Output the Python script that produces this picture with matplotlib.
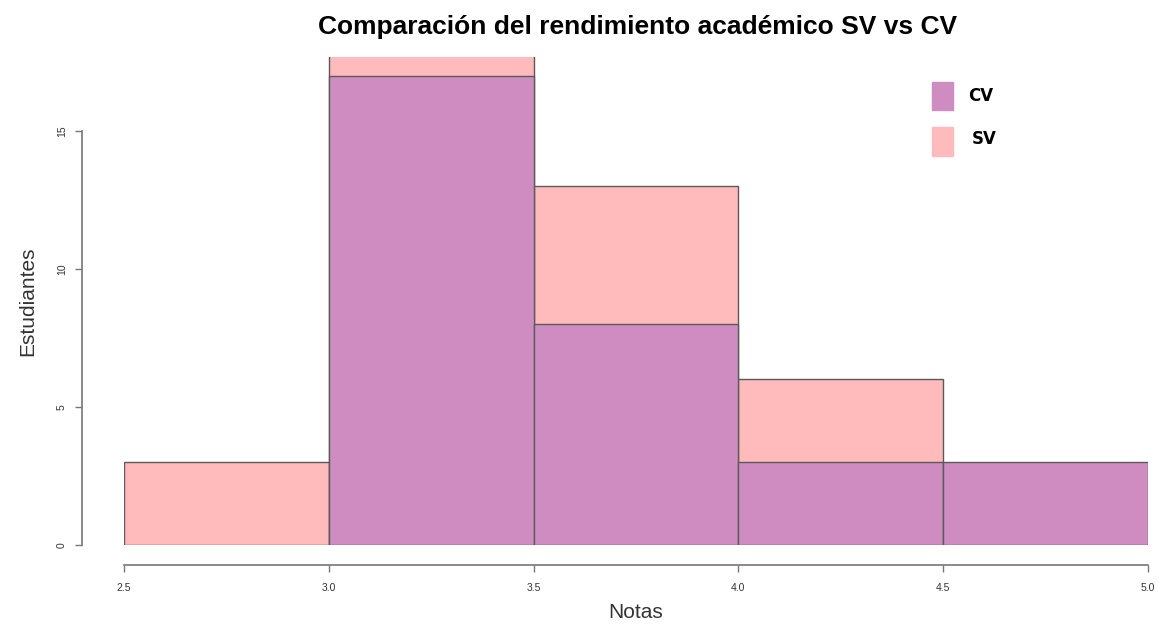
import matplotlib as mpl
mpl.use('Agg')
import matplotlib.pyplot as plt
from matplotlib.patches import Rectangle

plt.rcParams['font.family'] = ['Liberation Sans', 'DejaVu Sans']

# Histogram bins (Notas) and counts (Estudiantes)
bin_edges = [2.5, 3.0, 3.5, 4.0, 4.5]
sv_counts = [3, 18, 13, 6, 0]
cv_counts = [0, 17, 8, 3, 3]
x_ticks = [2.5, 3.0, 3.5, 4.0, 4.5, 5.0]
y_ticks = [0, 5, 10, 15]

sv_color = '#ffbbbb'
cv_color = '#ce8cc0'
edge = '#5a5a5a'

fig = plt.figure(figsize=(11.59, 6.28), dpi=100)
ax = fig.add_axes([124/1159, 83/628, 1024/1159, 488/628])

ax.bar(bin_edges, sv_counts, width=0.5, align='edge', color=sv_color,
       edgecolor=edge, linewidth=1)
ax.bar(bin_edges[1:], cv_counts[1:], width=0.5, align='edge', color=cv_color,
       edgecolor=edge, linewidth=1)

ax.set_xlim(2.5, 5.0)
ax.set_ylim(0, 17.68)

for s in ['top', 'right']:
    ax.spines[s].set_visible(False)
ax.spines['left'].set_position(('outward', 30))
ax.spines['bottom'].set_position(('outward', 14.5))
ax.spines['left'].set_bounds(0, 15)
ax.spines['bottom'].set_bounds(2.5, 5.0)
for s in ['left', 'bottom']:
    ax.spines[s].set_color('#777777')
    ax.spines[s].set_linewidth(1.2)

ax.set_xticks(x_ticks)
ax.set_xticklabels(['%.1f' % v for v in x_ticks])
ax.set_yticks(y_ticks)
ax.set_yticklabels([str(v) for v in y_ticks], rotation=90, va='center')
ax.tick_params(axis='both', colors='#777777', labelcolor='#333333',
               labelsize=7.5, length=5, width=1)
ax.tick_params(axis='x', pad=8)
ax.tick_params(axis='y', pad=6)

ax.set_xlabel('Notas', fontsize=15, color='#333333', labelpad=7)
ax.set_ylabel('Estudiantes', fontsize=15, color='#333333', labelpad=14)

fig.text(0.55, 1 - 27/628, 'Comparación del rendimiento académico SV vs CV',
         ha='center', va='center', fontsize=19, fontweight='bold')

# Legend
fig.patches.append(Rectangle((932/1159, 1 - 110/628), 21/1159, 28/628,
                             transform=fig.transFigure, color=cv_color))
fig.patches.append(Rectangle((932/1159, 1 - 156/628), 21/1159, 29/628,
                             transform=fig.transFigure, color=sv_color))
fig.text(968/1159, 1 - 96/628, 'CV', fontsize=12, fontweight='bold',
         va='center', ha='left', family='DejaVu Sans')
fig.text(972/1159, 1 - 139/628, 'SV', fontsize=12, fontweight='bold',
         va='center', ha='left', family='DejaVu Sans')

plt.savefig('out.png', dpi=100)
